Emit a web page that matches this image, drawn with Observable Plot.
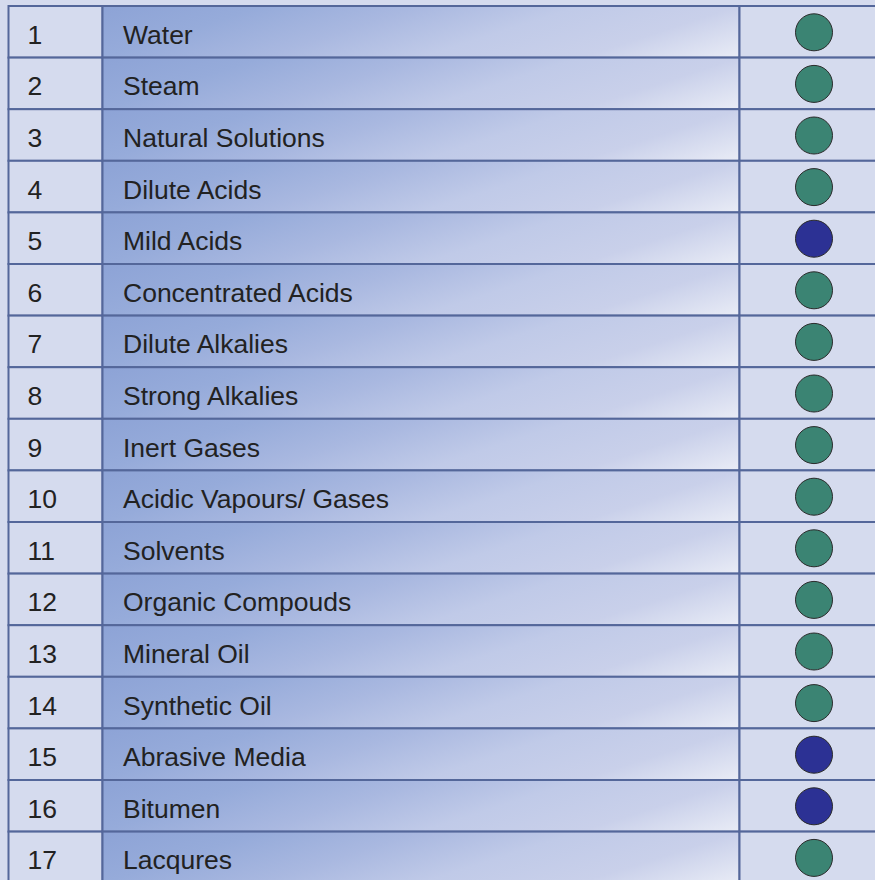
<!DOCTYPE html>
<html>
<head>
<meta charset="utf-8">
<script src="https://cdn.jsdelivr.net/npm/d3@7"></script>
<script src="https://cdn.jsdelivr.net/npm/@observablehq/plot@0.6"></script>
<style>
  html, body { margin: 0; padding: 0; background: #d5dbee; }
  #chart { width: 875px; height: 880px; overflow: hidden; }
  #chart svg { display: block; }
</style>
</head>
<body>
<div id="chart"></div>
<script>
// ---- data ----
const ids = [1, 2, 3, 4, 5, 6, 7, 8, 9, 10, 11, 12, 13, 14, 15, 16, 17];
const names = [
  "Water", "Steam", "Natural Solutions", "Dilute Acids", "Mild Acids",
  "Concentrated Acids", "Dilute Alkalies", "Strong Alkalies", "Inert Gases",
  "Acidic Vapours/ Gases", "Solvents", "Organic Compouds", "Mineral Oil",
  "Synthetic Oil", "Abrasive Media", "Bitumen", "Lacqures"
];
const ratings = [
  "resistant", "resistant", "resistant", "resistant", "limited", "resistant",
  "resistant", "resistant", "resistant", "resistant", "resistant", "resistant",
  "resistant", "resistant", "limited", "limited", "resistant"
];
const ratingDomain = ["resistant", "limited"];
const ratingColors = ["#3b8473", "#2c3194"];

// table column spans (relative units)
const colNo = [0, 94];
const colName = [94, 731];
const colMark = [731, 879];

const rows = ids.map((id, i) => ({ id, name: names[i], rating: ratings[i] }));

const lineColor = "#54679a";
const bg = "#d5dbee";
const font = "Liberation Sans, Arial, Helvetica, sans-serif";

const plot = Plot.plot({
  width: 875,
  height: 880,
  margin: 0,
  style: { background: bg, fontFamily: font, overflow: "hidden" },
  x: { type: "linear", domain: [0, 879], range: [8.5, 887.5], axis: null },
  y: { type: "band", domain: ids, range: [6, 6 + 17 * 51.6], padding: 0, round: false, axis: null },
  color: { type: "ordinal", domain: ratingDomain, range: ratingColors },
  marks: [
    Plot.barX(rows, { x1: () => colNo[0], x2: () => colNo[1], y: "id", fill: bg, stroke: lineColor, strokeWidth: 2, inset: 0 }),
    Plot.barX(rows, { x1: () => colName[0], x2: () => colName[1], y: "id", fill: "url(#rowGrad)", stroke: lineColor, strokeWidth: 2, inset: 0 }),
    Plot.barX(rows, { x1: () => colMark[0], x2: () => colMark[1], y: "id", fill: bg, stroke: lineColor, strokeWidth: 2, inset: 0 }),
    Plot.text(rows, { x: () => colNo[0] + 18.5, y: "id", text: d => String(d.id), textAnchor: "start", fontSize: 26.5, dy: 3, fill: "#222" }),
    Plot.text(rows, { x: () => colName[0] + 20, y: "id", text: "name", textAnchor: "start", fontSize: 26.5, dy: 3, fill: "#222" }),
    Plot.dot(rows, { x: () => (colMark[0] + colMark[1]) / 2, y: "id", r: 18.5, fill: "rating", stroke: "#2b2b2b", strokeWidth: 1 })
  ]
});

// gradient used for the name cells
const ns = "http://www.w3.org/2000/svg";
const defs = document.createElementNS(ns, "defs");
const grad = document.createElementNS(ns, "linearGradient");
grad.setAttribute("id", "rowGrad");
grad.setAttribute("x1", "0");
grad.setAttribute("y1", "0");
grad.setAttribute("x2", "1.176");
grad.setAttribute("y2", "0.294");
[[0, "#8da3d6"], [0.2, "#96abda"], [0.4, "#a9b8e0"], [0.6, "#c0cae8"], [0.8, "#c9d0ea"], [1, "#e9ecf6"]]
  .forEach(([o, c]) => {
    const s = document.createElementNS(ns, "stop");
    s.setAttribute("offset", o);
    s.setAttribute("stop-color", c);
    grad.appendChild(s);
  });
defs.appendChild(grad);
plot.insertBefore(defs, plot.firstChild);

document.getElementById("chart").appendChild(plot);
</script>
</body>
</html>
